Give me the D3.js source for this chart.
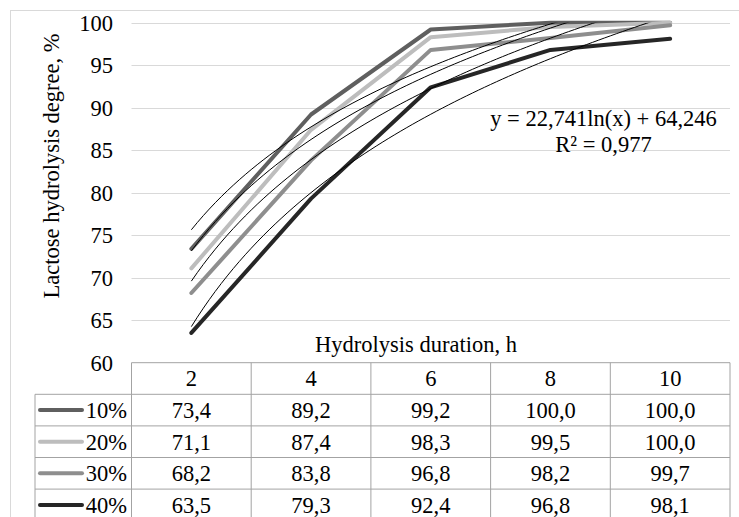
<!DOCTYPE html>
<html>
<head>
<meta charset="utf-8">
<script src="https://cdn.jsdelivr.net/npm/d3@7"></script>
<style>
    body { margin: 0; background: #fff; }
    text { font-family: "Liberation Serif", "Times New Roman", serif; fill: #000; }
</style>
</head>
<body>
<div class="chart"></div>
<script>
let svgWidth = 739;
let svgHeight = 517;

// chart data
let categories = [2, 4, 6, 8, 10];
let seriesNames = ["10%", "20%", "30%", "40%"];
let values10 = [73.4, 89.2, 99.2, 100.0, 100.0];
let values20 = [71.1, 87.4, 98.3, 99.5, 100.0];
let values30 = [68.2, 83.8, 96.8, 98.2, 99.7];
let values40 = [63.5, 79.3, 92.4, 96.8, 98.1];
let yTicks = [60, 65, 70, 75, 80, 85, 90, 95, 100];
let equationText = "y = 22,741ln(x) + 64,246";
let r2Text = "R² = 0,977";

let seriesValues = [values10, values20, values30, values40];
let seriesColors = ["#5f5f5f", "#bdbdbd", "#8e8e8e", "#262626"];

let plot = { left: 131.5, right: 730, top: 22.7, bottom: 362.7 };
let rowHeight = 31.6;
let fontSize = 22.5;

let svg = d3.select(".chart")
    .append("svg")
    .attr("width", svgWidth)
    .attr("height", svgHeight);

// outer frame
svg.append("rect")
    .attr("x", 10.5)
    .attr("y", 10.5)
    .attr("width", svgWidth)
    .attr("height", svgHeight)
    .attr("fill", "none")
    .attr("stroke", "#d9d9d9");

let xScale = d3.scaleBand()
    .domain(categories)
    .range([plot.left, plot.right]);

let xCenter = d => xScale(d) + xScale.bandwidth() / 2;

let yScale = d3.scaleLinear()
    .domain([60, 100])
    .range([plot.bottom, plot.top]);

// gridlines
svg.append("g")
    .selectAll("line")
    .data(yTicks.slice(1))
    .enter()
    .append("line")
    .attr("x1", plot.left)
    .attr("x2", plot.right)
    .attr("y1", d => Math.round(yScale(d)) + 0.5)
    .attr("y2", d => Math.round(yScale(d)) + 0.5)
    .attr("stroke", "#d9d9d9")
    .attr("stroke-width", 1);

// y labels
svg.append("g")
    .selectAll("text")
    .data(yTicks)
    .enter()
    .append("text")
    .attr("x", 113)
    .attr("y", d => yScale(d))
    .attr("dy", "0.35em")
    .attr("text-anchor", "end")
    .style("font-size", fontSize + "px")
    .text(d => d);

svg.append("text")
    .attr("transform", "translate(51, 166) rotate(-90)")
    .attr("text-anchor", "middle")
    .attr("dy", "0.35em")
    .style("font-size", fontSize + "px")
    .text("Lactose hydrolysis degree, %");

svg.append("text")
    .attr("x", 416)
    .attr("y", 352)
    .attr("text-anchor", "middle")
    .style("font-size", fontSize + "px")
    .text("Hydrolysis duration, h");

// series lines
let line = d3.line()
    .x((d, i) => xCenter(categories[i]))
    .y(d => yScale(d));

svg.append("g")
    .selectAll("path")
    .data(seriesValues)
    .enter()
    .append("path")
    .attr("d", d => line(d))
    .attr("fill", "none")
    .attr("stroke", (d, i) => seriesColors[i])
    .attr("stroke-width", 4)
    .attr("stroke-linejoin", "round")
    .attr("stroke-linecap", "round");

// logarithmic trendlines (least squares on category index, like Excel)
function logFit(vals) {
    let xs = vals.map((v, i) => Math.log(i + 1));
    let mx = d3.mean(xs);
    let my = d3.mean(vals);
    let sxy = d3.sum(xs, (x, i) => (x - mx) * (vals[i] - my));
    let sxx = d3.sum(xs, x => (x - mx) * (x - mx));
    let a = sxy / sxx;
    return { a: a, b: my - a * mx };
}

svg.append("clipPath")
    .attr("id", "plotClip")
    .append("rect")
    .attr("x", plot.left)
    .attr("y", plot.top)
    .attr("width", plot.right - plot.left)
    .attr("height", plot.bottom - plot.top);

let idxScale = d3.scaleLinear()
    .domain([1, categories.length])
    .range([xCenter(categories[0]), xCenter(categories[categories.length - 1])]);

let trendLine = d3.line()
    .x(d => idxScale(d[0]))
    .y(d => yScale(d[1]));

let steps = d3.range(1, categories.length + 0.001, 0.05);

svg.append("g")
    .attr("clip-path", "url(#plotClip)")
    .selectAll("path")
    .data(seriesValues)
    .enter()
    .append("path")
    .attr("d", vals => {
        let fit = logFit(vals);
        return trendLine(steps.map(t => [t, fit.a * Math.log(t) + fit.b]));
    })
    .attr("fill", "none")
    .attr("stroke", "#000")
    .attr("stroke-width", 1);

// trendline equation
svg.append("text")
    .attr("x", 603.5)
    .attr("y", 126)
    .attr("text-anchor", "middle")
    .style("font-size", fontSize + "px")
    .text(equationText);

svg.append("text")
    .attr("x", 603.5)
    .attr("y", 152)
    .attr("text-anchor", "middle")
    .style("font-size", fontSize + "px")
    .text(r2Text);

// data table
let tableColor = "#a3a3a3";
let tableTop = plot.bottom;
let tableBottom = tableTop + rowHeight * (seriesNames.length + 1);
let table = svg.append("g");

// horizontal lines
table.append("line")
    .attr("x1", plot.left).attr("x2", plot.right)
    .attr("y1", tableTop).attr("y2", tableTop)
    .attr("stroke", tableColor);

table.selectAll(".hrow")
    .data(d3.range(1, seriesNames.length + 1))
    .enter()
    .append("line")
    .attr("x1", 35).attr("x2", plot.right)
    .attr("y1", d => tableTop + d * rowHeight)
    .attr("y2", d => tableTop + d * rowHeight)
    .attr("stroke", tableColor);

// vertical lines
table.selectAll(".vcol")
    .data(categories.map(c => xScale(c)).concat([plot.right]))
    .enter()
    .append("line")
    .attr("x1", d => d).attr("x2", d => d)
    .attr("y1", tableTop).attr("y2", tableBottom)
    .attr("stroke", tableColor);

table.append("line")
    .attr("x1", 35).attr("x2", 35)
    .attr("y1", tableTop + rowHeight).attr("y2", tableBottom)
    .attr("stroke", tableColor);

// header
table.selectAll(".head")
    .data(categories)
    .enter()
    .append("text")
    .attr("x", d => xCenter(d))
    .attr("y", tableTop + rowHeight / 2)
    .attr("dy", "0.35em")
    .attr("text-anchor", "middle")
    .style("font-size", fontSize + "px")
    .text(d => d);

// rows
seriesValues.forEach(function (vals, i) {
    let cy = tableTop + rowHeight * (i + 1.5);

    table.append("line")
        .attr("x1", 40).attr("x2", 82)
        .attr("y1", cy).attr("y2", cy)
        .attr("stroke", seriesColors[i])
        .attr("stroke-width", 4)
        .attr("stroke-linecap", "round");

    table.append("text")
        .attr("x", 127)
        .attr("y", cy)
        .attr("dy", "0.35em")
        .attr("text-anchor", "end")
        .style("font-size", fontSize + "px")
        .text(seriesNames[i]);

    table.selectAll(".cell" + i)
        .data(vals)
        .enter()
        .append("text")
        .attr("x", (d, j) => xCenter(categories[j]))
        .attr("y", cy)
        .attr("dy", "0.35em")
        .attr("text-anchor", "middle")
        .style("font-size", fontSize + "px")
        .text(d => d3.format(".1f")(d).replace(".", ","));
});
</script>
</body>
</html>
